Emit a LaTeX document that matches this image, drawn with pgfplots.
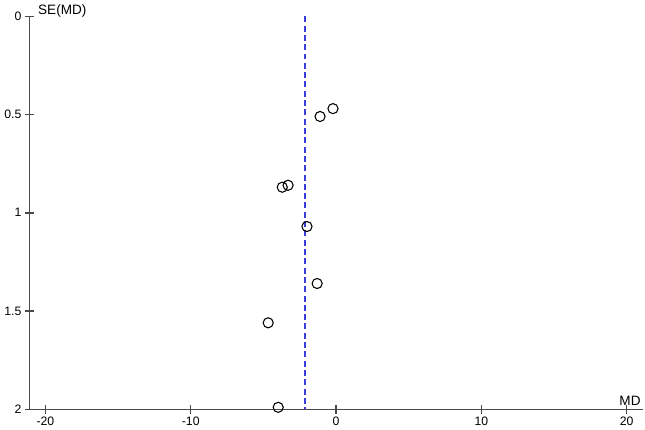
\documentclass[border=0pt]{standalone}
\usepackage{fontspec}
\setmainfont{Liberation Sans}
\usepackage{pgfplots}
\pgfplotsset{compat=1.18}
\definecolor{axgray}{HTML}{4A4A4A}
\definecolor{meanblue}{HTML}{3C3CD8}

\begin{document}
\begin{tikzpicture}[font=\fontsize{9.2}{11}\selectfont]
  \begin{axis}[
    scale only axis,
    width=461pt, height=295.5pt,
    xmin=-21.1, xmax=21.1,
    ymin=0, ymax=2,
    y dir=reverse,
    axis x line*=bottom, axis y line*=left,
    axis line style={axgray,line width=1.1pt},
    xtick={-20,-10,0,10,20},
    ytick={0,0.5,1,1.5,2},
    yticklabels={0,0.5,1,1.5,2},
    xtick align=center, ytick align=center,
    major tick length=7pt,
    tick style={axgray,line width=1.1pt},
    /pgf/number format/assume math mode=true,
    xticklabel style={yshift=1.5pt},
    yticklabel style={xshift=1pt},
    clip=false,
  ]
    % pooled mean difference
    \addplot[meanblue,line width=0.9pt,dash pattern=on 4.5pt off 2.5pt]
      coordinates {(-2.13,0) (-2.13,2)};
    % studies
    \addplot[only marks,mark=o,mark size=3.8pt,
             mark options={black,line width=0.8pt}]
      coordinates {
        (-0.21,0.47) (-1.1,0.51) (-3.3,0.86) (-3.7,0.87)
        (-2.0,1.07) (-1.3,1.36) (-4.67,1.56) (-3.98,1.99)
      };
    \node[anchor=base west,xshift=3pt,yshift=1.5pt,
          font=\fontsize{10.2}{12}\selectfont]
      at (axis cs:-21.1,0) {SE(MD)};
    \node[anchor=base east,xshift=2pt,yshift=3pt,
          font=\fontsize{10.2}{12}\selectfont]
      at (axis cs:21.1,2) {MD};
  \end{axis}
\end{tikzpicture}
\end{document}
